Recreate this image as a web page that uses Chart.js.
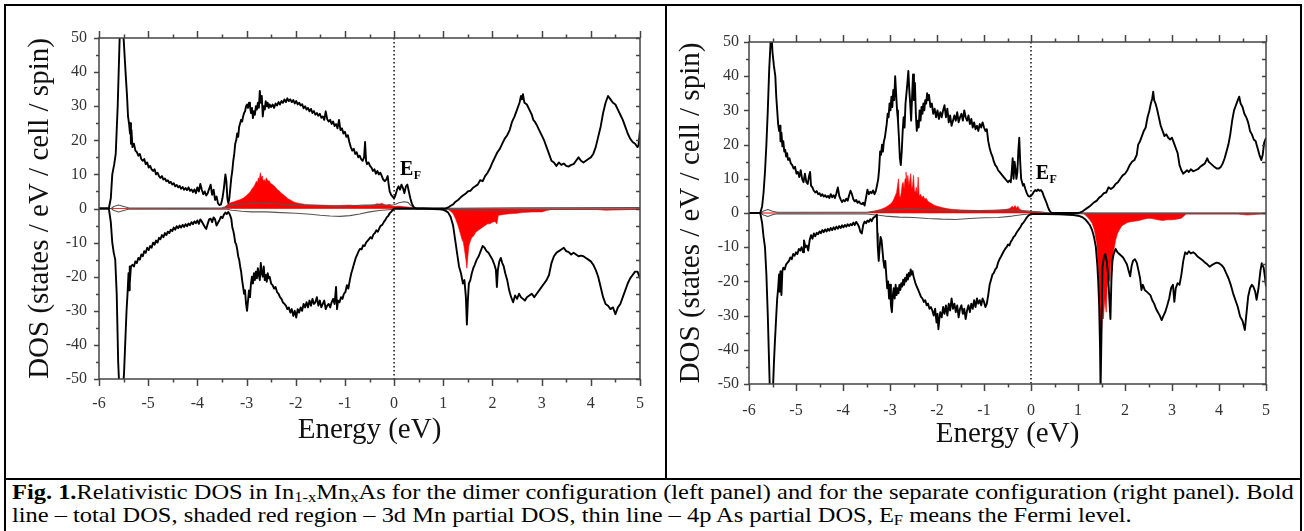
<!DOCTYPE html>
<html>
<head>
<meta charset="utf-8">
<script src="https://cdn.jsdelivr.net/npm/chart.js@4/dist/chart.umd.min.js"></script>
<style>
  html, body { margin: 0; padding: 0; background: #fff; }
  body { width: 1304px; height: 531px; position: relative; overflow: hidden; font-family: "Liberation Serif", "Times New Roman", serif; }
  .rule { position: absolute; background: #000; }
  canvas { position: absolute; }
  #cap { position: absolute; left: 12px; top: 481px; font-size: 21px; line-height: 23px; color: #000; white-space: nowrap;
         transform: scaleX(1.163); transform-origin: 0 0; }
  #cap sub { font-size: 0.68em; vertical-align: -0.22em; line-height: 0; }
</style>
</head>
<body>
<div class="rule" style="left:4px;top:4px;width:1298px;height:2px"></div>
<div class="rule" style="left:4px;top:4px;width:2px;height:527px"></div>
<div class="rule" style="left:1300px;top:4px;width:2px;height:527px"></div>
<div class="rule" style="left:665px;top:4px;width:2px;height:476px"></div>
<div class="rule" style="left:4px;top:478px;width:1298px;height:2px"></div>

<canvas id="dimer" width="659" height="468" style="left:6px;top:6px;width:659px;height:468px"></canvas>
<canvas id="separate" width="633" height="468" style="left:667px;top:6px;width:633px;height:468px"></canvas>

<div id="cap"><b>Fig. 1.</b>Relativistic DOS in In<sub>1-x</sub>Mn<sub>x</sub>As for the dimer configuration (left panel) and for the separate configuration (right panel). Bold<br>line – total DOS, shaded red region – 3d Mn partial DOS, thin line – 4p As partial DOS, E<sub>F</sub> means the Fermi level.</div>

<script>
// axis ticks (major + half steps)
const energyTicks = [-6, -5.5, -5, -4.5, -4, -3.5, -3, -2.5, -2, -1.5, -1, -0.5, 0, 0.5, 1, 1.5, 2, 2.5, 3, 3.5, 4, 4.5, 5];
const dosTicks = [-50, -45, -40, -35, -30, -25, -20, -15, -10, -5, 0, 5, 10, 15, 20, 25, 30, 35, 40, 45, 50];

// ---- left panel: dimer configuration, [energy eV, DOS] ----
const dimerTotalUp = [
  [-6,0],[-5.8,0],[-5.76,3],[-5.73,10],[-5.69,13],[-5.66,16],[-5.62,30],[-5.58,50],[-5.55,55],[-5.5,50],[-5.46,40],[-5.43,33],
  [-5.41,27],[-5.39,25],[-5.37,22],[-5.36,25],[-5.35,19],[-5.34,23],[-5.32,18],[-5.29,19],[-5.26,17],[-5.23,16.5],[-5.2,15.5],
  [-5.17,16],[-5.14,14.5],[-5.11,14],[-5.08,14.5],[-5.05,13],[-5.02,13.5],[-4.99,12],[-4.96,12.5],[-4.93,11.5],[-4.9,11],
  [-4.87,11.5],[-4.84,10],[-4.81,10.5],[-4.78,9.5],[-4.75,9],[-4.72,9.5],[-4.69,8.5],[-4.66,8.8],[-4.63,8],[-4.6,8.3],
  [-4.57,7.5],[-4.54,7.8],[-4.51,7],[-4.48,7.4],[-4.45,6.5],[-4.42,6.9],[-4.39,6.2],[-4.36,6.6],[-4.33,5.8],[-4.3,6.3],
  [-4.27,5.5],[-4.24,6],[-4.21,5.4],[-4.18,6.2],[-4.15,5.2],[-4.12,5.6],[-4.09,4.8],[-4.06,5.6],[-4.03,4.5],[-4,6.2],
  [-3.97,5],[-3.94,7.2],[-3.91,5.5],[-3.88,4.2],[-3.85,5],[-3.82,3.8],[-3.79,4.5],[-3.76,5.8],[-3.73,7],[-3.7,4],
  [-3.67,5.5],[-3.64,2.5],[-3.61,3.5],[-3.58,1.5],[-3.55,1],[-3.52,1.2],[-3.49,3],[-3.46,6],[-3.43,10],[-3.41,8],
  [-3.39,3],[-3.37,1.5],[-3.35,3],[-3.33,6],[-3.31,9],[-3.29,11],[-3.27,14],[-3.25,16],[-3.23,19],[-3.21,20],[-3.19,22],
  [-3.17,21],[-3.15,24],[-3.13,25],[-3.11,26],[-3.09,25.5],[-3.07,27],[-3.05,28],[-3.03,28.5],[-3.01,30],[-2.99,30.5],
  [-2.97,29.5],[-2.95,31],[-2.93,30],[-2.91,28],[-2.89,29.5],[-2.87,26.5],[-2.85,28.5],[-2.83,27.5],[-2.81,30],[-2.79,29],
  [-2.77,31],[-2.75,29.5],[-2.73,34.5],[-2.71,31],[-2.69,33],[-2.67,27],[-2.65,30],[-2.63,29],[-2.61,31.5],[-2.59,30],
  [-2.57,31],[-2.55,29.5],[-2.53,30.5],[-2.5,29.8],[-2.47,30.5],[-2.44,29.5],[-2.41,30.8],[-2.38,30.2],[-2.35,31.2],
  [-2.32,30.5],[-2.29,31.5],[-2.26,31],[-2.23,32],[-2.2,31.2],[-2.17,32.3],[-2.14,31.5],[-2.11,32],[-2.08,31.2],[-2.05,31.8],
  [-2.02,30.8],[-1.99,31.5],[-1.96,30.5],[-1.93,31],[-1.9,30.2],[-1.87,30.6],[-1.84,29.4],[-1.81,30],[-1.78,29],[-1.75,29.5],
  [-1.72,28.5],[-1.69,29.2],[-1.66,28],[-1.63,28.6],[-1.6,27.5],[-1.57,28],[-1.54,27.2],[-1.51,27.8],[-1.48,26.6],[-1.45,27],
  [-1.42,26],[-1.39,28.5],[-1.36,26.2],[-1.33,25.5],[-1.3,26],[-1.27,24.8],[-1.24,25.5],[-1.21,24.2],[-1.18,24.8],[-1.15,23.5],
  [-1.12,26],[-1.09,23],[-1.06,23.5],[-1.03,22],[-1,22.5],[-0.97,21],[-0.94,21.5],[-0.91,19.5],[-0.88,18],[-0.85,17],
  [-0.82,17.5],[-0.79,16],[-0.76,16.5],[-0.73,15],[-0.7,15.5],[-0.67,14.5],[-0.64,14],[-0.61,15],[-0.59,19.5],[-0.57,14],
  [-0.55,13],[-0.52,13.5],[-0.49,12.5],[-0.46,12],[-0.43,11],[-0.4,11.5],[-0.37,10.2],[-0.34,11],[-0.31,10],[-0.28,10.5],
  [-0.25,9.5],[-0.22,8.5],[-0.19,8],[-0.16,8.5],[-0.13,9.5],[-0.11,7],[-0.09,5],[-0.06,4],[-0.03,3.5],[0,3],[0.03,4],
  [0.06,5.5],[0.09,6.5],[0.12,5.5],[0.15,7],[0.18,6],[0.21,4.5],[0.24,6.5],[0.27,7],[0.3,5],[0.33,3],[0.36,1.5],[0.4,0.3],
  [0.45,0],[1.05,0],[1.1,0.3],[1.15,0.8],[1.2,1.2],[1.25,2],[1.3,2.5],[1.35,3.2],[1.4,3.8],[1.45,4.3],[1.5,5],[1.55,5.2],
  [1.6,6],[1.65,6.5],[1.7,7],[1.75,8.3],[1.8,8],[1.85,9.5],[1.9,10.5],[1.95,11.8],[2,13.5],[2.05,15],[2.1,16.5],[2.15,17.5],
  [2.2,19],[2.25,20.5],[2.3,21.5],[2.35,23],[2.4,25.5],[2.45,27],[2.5,29],[2.55,31],[2.58,33],[2.6,32],[2.62,33.5],[2.65,31],
  [2.7,30.5],[2.75,29],[2.8,27.5],[2.83,26],[2.86,25.5],[2.9,24.5],[2.95,23],[3,21.5],[3.05,20],[3.1,18],[3.15,16],[3.2,14],
  [3.25,13.5],[3.3,12.5],[3.35,13.5],[3.4,12.8],[3.45,13.2],[3.5,12.5],[3.55,12.3],[3.6,12.8],[3.65,13],[3.7,14],[3.75,15],
  [3.8,14],[3.85,13.5],[3.9,14],[3.95,14.5],[4,15],[4.05,16],[4.1,18],[4.15,21],[4.2,24],[4.25,28],[4.3,31],[4.35,33],
  [4.4,32],[4.45,31],[4.5,30.5],[4.55,29],[4.6,27.5],[4.65,26],[4.7,24],[4.75,22],[4.8,20.5],[4.85,19.5],[4.9,19],[4.95,18],
  [4.97,18.5],[5,23]
];
const dimerTotalDown = [
  [-6,0],[-5.8,0],[-5.76,-4],[-5.73,-10],[-5.7,-13],[-5.67,-15],[-5.64,-25],[-5.61,-45],[-5.58,-55],[-5.52,-55],[-5.49,-48],
  [-5.46,-37],[-5.44,-30],[-5.42,-25],[-5.4,-19],[-5.39,-24],[-5.38,-17],[-5.37,-22],[-5.35,-17],[-5.32,-16.5],[-5.29,-17],
  [-5.26,-15.5],[-5.23,-16],[-5.2,-14.5],[-5.17,-15],[-5.14,-13.5],[-5.11,-14],[-5.08,-12.5],[-5.05,-13],[-5.02,-11.5],
  [-4.99,-12.2],[-4.96,-11],[-4.93,-11.5],[-4.9,-10],[-4.87,-10.6],[-4.84,-9.4],[-4.81,-10],[-4.78,-8.6],[-4.75,-9],
  [-4.72,-7.8],[-4.69,-8.4],[-4.66,-7.2],[-4.63,-7.8],[-4.6,-6.8],[-4.57,-7.2],[-4.54,-6.2],[-4.51,-6.6],[-4.48,-5.6],
  [-4.45,-6.2],[-4.42,-5.2],[-4.39,-5.8],[-4.36,-5],[-4.33,-5.6],[-4.3,-4.8],[-4.27,-5.4],[-4.24,-4.6],[-4.21,-5.2],
  [-4.18,-4.4],[-4.15,-4.9],[-4.12,-4],[-4.09,-4.6],[-4.06,-3.8],[-4.03,-4.3],[-4,-3.5],[-3.97,-4.5],[-3.94,-3.2],
  [-3.91,-3.8],[-3.88,-4.6],[-3.85,-5.4],[-3.82,-6],[-3.79,-4.5],[-3.76,-3.2],[-3.73,-3],[-3.7,-4],[-3.67,-2.6],[-3.64,-3.2],
  [-3.61,-5],[-3.58,-4.2],[-3.55,-3.4],[-3.52,-2.4],[-3.49,-2.8],[-3.46,-1.8],[-3.43,-1.2],[-3.4,-1.6],[-3.37,-1],[-3.34,-1.8],
  [-3.31,-3],[-3.29,-5.5],[-3.27,-6.5],[-3.25,-8],[-3.23,-10],[-3.21,-10.5],[-3.19,-12],[-3.17,-14],[-3.15,-15],[-3.13,-17],
  [-3.11,-18.5],[-3.09,-21],[-3.07,-23],[-3.05,-25],[-3.03,-24],[-3.01,-28],[-2.99,-30],[-2.97,-27],[-2.95,-24],[-2.93,-26],
  [-2.91,-22],[-2.89,-20],[-2.87,-22],[-2.85,-19],[-2.83,-21],[-2.81,-18.5],[-2.79,-20.5],[-2.77,-17.5],[-2.75,-19.5],
  [-2.73,-21],[-2.71,-16],[-2.69,-19],[-2.67,-20],[-2.65,-17],[-2.63,-21],[-2.61,-19.5],[-2.59,-21.5],[-2.57,-19],[-2.55,-20.5],
  [-2.53,-20],[-2.5,-22],[-2.47,-22.5],[-2.44,-23.5],[-2.41,-23],[-2.38,-24.5],[-2.35,-25],[-2.32,-26],[-2.29,-26.5],
  [-2.26,-27.5],[-2.23,-28],[-2.2,-28.5],[-2.17,-29.5],[-2.14,-29],[-2.11,-30.5],[-2.08,-29.5],[-2.05,-31.5],[-2.02,-30],
  [-1.99,-32],[-1.96,-29.5],[-1.93,-30.5],[-1.9,-29],[-1.87,-30],[-1.84,-28],[-1.81,-29],[-1.78,-27.5],[-1.75,-29],[-1.72,-27],
  [-1.69,-28.5],[-1.66,-26.5],[-1.63,-28],[-1.6,-27.5],[-1.57,-26],[-1.54,-28.5],[-1.51,-27],[-1.48,-29],[-1.45,-28],[-1.42,-27],
  [-1.39,-29.5],[-1.36,-28.5],[-1.33,-28],[-1.3,-29],[-1.27,-27.5],[-1.24,-26.5],[-1.21,-28],[-1.18,-23],[-1.16,-29.5],
  [-1.14,-27],[-1.11,-27.5],[-1.08,-26],[-1.05,-26.5],[-1.02,-25],[-0.99,-24.5],[-0.96,-22.5],[-0.93,-23.5],[-0.9,-21],
  [-0.87,-19],[-0.84,-17.5],[-0.81,-16],[-0.78,-14.5],[-0.75,-13.5],[-0.72,-12.5],[-0.69,-11.8],[-0.66,-12],[-0.63,-10.8],
  [-0.6,-11],[-0.57,-10],[-0.54,-9.5],[-0.51,-9],[-0.48,-8.4],[-0.45,-8.8],[-0.42,-7.6],[-0.39,-7.2],[-0.36,-6.4],[-0.33,-6.8],
  [-0.3,-5.8],[-0.27,-5],[-0.24,-4.8],[-0.21,-4],[-0.18,-3.4],[-0.15,-2.6],[-0.12,-2.2],[-0.09,-1.4],[-0.06,-1],[-0.03,-0.5],
  [0,0],[0.3,0],[0.6,0],[0.9,-0.2],[1,-0.4],[1.05,-0.7],[1.1,-1.2],[1.15,-2.5],[1.2,-5],[1.25,-10],[1.28,-13],[1.32,-17],
  [1.36,-19],[1.4,-22],[1.43,-21],[1.46,-26],[1.48,-34],[1.5,-27],[1.52,-22],[1.55,-21],[1.58,-19],[1.61,-17.5],[1.64,-16.5],
  [1.68,-15],[1.72,-14],[1.76,-12.5],[1.8,-11],[1.84,-11.5],[1.88,-12.5],[1.92,-13],[1.96,-14],[2,-15],[2.04,-16.5],[2.07,-18],
  [2.09,-23],[2.11,-18],[2.14,-15.5],[2.17,-14.5],[2.2,-16],[2.23,-17],[2.26,-19],[2.3,-21],[2.34,-24],[2.38,-26],[2.42,-27.5],
  [2.46,-25.5],[2.5,-26.5],[2.54,-25],[2.58,-26],[2.62,-26.5],[2.66,-27],[2.7,-26],[2.75,-25.5],[2.8,-25],[2.85,-26],[2.9,-25],
  [2.95,-24],[3,-23],[3.05,-22],[3.1,-21],[3.15,-19.5],[3.2,-16],[3.25,-14],[3.3,-13],[3.35,-12.5],[3.4,-12],[3.45,-11.5],
  [3.5,-12.5],[3.55,-12.8],[3.6,-13.5],[3.65,-13],[3.7,-13.5],[3.75,-14],[3.8,-13.8],[3.85,-14],[3.9,-14.5],[3.95,-15],
  [4,-15.5],[4.05,-16.5],[4.1,-18],[4.15,-20],[4.2,-23],[4.25,-26],[4.3,-28],[4.35,-28.5],[4.4,-29.5],[4.45,-29],[4.5,-31],
  [4.55,-29],[4.6,-28],[4.65,-26],[4.7,-24],[4.75,-22],[4.8,-20.5],[4.85,-19.5],[4.9,-18.5],[4.95,-18.5],[5,-20.5]
];
const dimerMnUp = [
  [-6,0],[-3.5,0],[-3.45,0.3],[-3.4,1],[-3.35,1.5],[-3.3,1.8],[-3.25,2],[-3.2,2.3],[-3.15,2.5],[-3.1,2.8],[-3.05,3.2],[-3,3.8],
  [-2.95,4.5],[-2.92,5],[-2.89,5.8],[-2.86,6.2],[-2.83,7],[-2.8,8],[-2.78,7.5],[-2.76,9],[-2.74,8.5],[-2.72,10.5],[-2.7,9],
  [-2.68,9.5],[-2.66,8],[-2.64,8.5],[-2.62,7.8],[-2.6,9],[-2.58,8.5],[-2.56,8],[-2.54,8.2],[-2.52,7.5],[-2.49,7.2],[-2.46,6.8],
  [-2.43,6.5],[-2.4,6],[-2.37,5.5],[-2.34,5.2],[-2.31,4.8],[-2.28,4.3],[-2.25,4],[-2.2,3.4],[-2.15,2.8],[-2.1,2.4],[-2.05,2],
  [-2,1.7],[-1.9,1.4],[-1.8,1.2],[-1.7,1.1],[-1.5,1],[-1.3,0.9],[-1.1,0.9],[-0.9,1],[-0.7,0.8],[-0.5,0.9],[-0.4,1.1],
  [-0.35,1.4],[-0.3,1.3],[-0.25,1.5],[-0.2,1.2],[-0.15,1],[-0.1,1.2],[-0.05,0.8],[0,0.6],[0.1,0.7],[0.2,0.5],[0.3,0.4],
  [0.4,0.1],[0.5,0],[5,0]
];
const dimerMnDown = [
  [-6,0],[1,0],[1.1,-0.3],[1.15,-0.8],[1.2,-1.5],[1.25,-3],[1.3,-5],[1.34,-7],[1.38,-9],[1.41,-10],[1.44,-13],[1.46,-15],
  [1.48,-17.5],[1.5,-14],[1.52,-11],[1.55,-9.5],[1.58,-8.5],[1.62,-8],[1.66,-7],[1.7,-6.5],[1.75,-6],[1.8,-5.5],[1.85,-5],
  [1.9,-4.5],[1.95,-4.5],[2,-4],[2.05,-3.8],[2.09,-4.5],[2.12,-2],[2.2,-1.8],[2.3,-1.6],[2.4,-1.5],[2.5,-1.4],[2.6,-1.2],
  [2.8,-1],[3,-1],[3.1,-0.6],[3.2,-0.3],[4,-0.2],[4.3,-0.5],[4.6,-0.4],[5,-0.2]
];
const dimerAsUp = [
  [-6,0],[-5.75,0],[-5.7,0.6],[-5.6,1],[-5.5,0.6],[-5.4,0.2],[-4,0.1],[-3.5,0.2],[-3.4,0.6],[-3.3,1],[-3.2,1.2],[-3,1.4],
  [-2.8,1.5],[-2.6,1.5],[-2.4,1.4],[-2.2,1.2],[-2,1],[-1.8,0.9],[-1.5,0.8],[-1.2,0.7],[-1,0.7],[-0.8,0.9],[-0.6,1],[-0.4,1],
  [-0.2,0.9],[0,1.1],[0.1,1.7],[0.2,2],[0.28,1.8],[0.35,0.8],[0.45,0],[2.5,0.2],[5,0.3]
];
const dimerAsDown = [
  [-6,0],[-5.75,0],[-5.7,-0.6],[-5.6,-1],[-5.5,-0.6],[-5.4,-0.2],[-3.4,-0.2],[-3.3,-0.5],[-3.1,-0.8],[-2.9,-1],[-2.6,-1],
  [-2.3,-1.2],[-2,-1.4],[-1.7,-1.7],[-1.5,-2],[-1.3,-2.2],[-1.1,-2.3],[-0.9,-2.1],[-0.7,-1.6],[-0.5,-1],[-0.3,-0.6],[0,-0.2],
  [1.1,-0.2],[1.5,-0.4],[2,-0.5],[3,-0.3],[5,-0.3]
];

// ---- right panel: separate configuration ----
const sepTotalUp = [
  [-6,0],[-5.76,0],[-5.72,2],[-5.69,6],[-5.66,12],[-5.63,20],[-5.6,30],[-5.57,42],[-5.54,50],[-5.52,52],[-5.5,47],[-5.47,43],
  [-5.44,40],[-5.42,34],[-5.4,30],[-5.38,26],[-5.36,24],[-5.34,25.5],[-5.33,21],[-5.31,23.5],[-5.29,19.5],[-5.27,21],
  [-5.25,18],[-5.23,18.5],[-5.21,16.5],[-5.19,17.5],[-5.17,15.5],[-5.14,16],[-5.11,14.5],[-5.08,14],[-5.05,13],[-5.02,13.5],
  [-4.99,11.5],[-4.96,12],[-4.93,10.5],[-4.9,12.5],[-4.87,10],[-4.84,9],[-4.81,11.5],[-4.78,9],[-4.75,8.5],[-4.72,11],
  [-4.7,12],[-4.68,8],[-4.65,7.5],[-4.62,6.5],[-4.59,6],[-4.56,6.4],[-4.53,5.5],[-4.5,5.8],[-4.47,5],[-4.44,5.5],[-4.41,4.8],
  [-4.38,5.2],[-4.35,4.6],[-4.32,5],[-4.29,4.4],[-4.26,5.5],[-4.23,4.6],[-4.2,5.2],[-4.17,4.4],[-4.14,5.8],[-4.11,7.5],
  [-4.08,5],[-4.05,4],[-4.02,3.2],[-3.99,3.8],[-3.96,3.4],[-3.93,4.2],[-3.9,3.6],[-3.87,5.2],[-3.84,6.5],[-3.81,5.5],[-3.78,4],
  [-3.75,3.4],[-3.72,3.8],[-3.69,3],[-3.66,3.4],[-3.63,2.8],[-3.6,2.6],[-3.57,3],[-3.54,2.2],[-3.51,4.5],[-3.48,6.8],
  [-3.45,5.5],[-3.42,6.2],[-3.39,5.8],[-3.36,6.6],[-3.33,5.5],[-3.3,6.5],[-3.27,8.5],[-3.25,10],[-3.23,13],[-3.21,18],
  [-3.19,17],[-3.17,20],[-3.15,18],[-3.13,21],[-3.11,22],[-3.09,24],[-3.07,26],[-3.05,29],[-3.03,28],[-3.01,32],[-2.99,30],
  [-2.97,34],[-2.95,31],[-2.93,36],[-2.91,33],[-2.89,40],[-2.87,35],[-2.85,30],[-2.83,27],[-2.81,22],[-2.79,16],[-2.77,14],
  [-2.75,18],[-2.73,24],[-2.71,28],[-2.69,25],[-2.67,32],[-2.65,35],[-2.63,38],[-2.61,41.5],[-2.59,36],[-2.57,32],[-2.55,27],
  [-2.53,34],[-2.51,40.5],[-2.49,33],[-2.47,38],[-2.45,29],[-2.43,24],[-2.41,27],[-2.39,25],[-2.37,30],[-2.35,27],[-2.33,31],
  [-2.31,29],[-2.29,32],[-2.27,30],[-2.25,33],[-2.23,32],[-2.21,35],[-2.19,33],[-2.17,34.5],[-2.14,31],[-2.11,32],[-2.08,29],
  [-2.05,30.5],[-2.02,28],[-1.99,30],[-1.96,27.5],[-1.93,29.5],[-1.9,28],[-1.87,30],[-1.84,31.5],[-1.81,28],[-1.78,30.5],
  [-1.75,26.5],[-1.72,28.5],[-1.69,25.5],[-1.66,27],[-1.63,28.5],[-1.6,27],[-1.57,29.5],[-1.54,26.5],[-1.51,28],[-1.48,29],
  [-1.45,27],[-1.42,30],[-1.39,28],[-1.36,27],[-1.33,28.5],[-1.3,26],[-1.27,27.5],[-1.24,25],[-1.21,26.5],[-1.18,24.5],
  [-1.15,25.5],[-1.12,24],[-1.09,26],[-1.06,25],[-1.03,26.5],[-1,25],[-0.97,24],[-0.94,24.5],[-0.91,21],[-0.88,19],
  [-0.85,17.5],[-0.82,16.5],[-0.79,15],[-0.76,14],[-0.73,13.5],[-0.7,12.5],[-0.67,12],[-0.64,11.5],[-0.61,11],[-0.58,10.5],
  [-0.55,10],[-0.52,9.5],[-0.49,9],[-0.46,9.5],[-0.43,9],[-0.41,12],[-0.39,16],[-0.37,10],[-0.35,15],[-0.33,13],[-0.31,10],
  [-0.29,12],[-0.27,18],[-0.25,22],[-0.23,15],[-0.21,10],[-0.19,9],[-0.17,8],[-0.15,8.5],[-0.12,7],[-0.09,5.8],[-0.06,5],
  [-0.03,4.8],[0,5],[0.03,5.5],[0.06,6.2],[0.09,6.7],[0.12,6.4],[0.15,6.9],[0.18,6.5],[0.21,6.7],[0.24,6.2],[0.27,5],[0.3,4],
  [0.33,3],[0.36,1.8],[0.39,0.8],[0.42,0.2],[0.45,0],[1,0],[1.05,0.2],[1.1,0.5],[1.15,1],[1.2,1.5],[1.25,2],[1.3,2.6],
  [1.35,3.2],[1.4,3.6],[1.45,4.5],[1.5,5],[1.55,5.8],[1.6,6],[1.65,7.5],[1.7,7],[1.75,7.5],[1.8,8.5],[1.85,9],[1.9,10],
  [1.95,11],[2,11.5],[2.05,12.5],[2.1,14],[2.15,15],[2.2,15.5],[2.25,17],[2.28,20],[2.32,21],[2.36,22.5],[2.4,24],[2.44,25],
  [2.48,28],[2.52,30],[2.55,32],[2.58,33.5],[2.6,35.5],[2.62,33],[2.65,32],[2.68,30.5],[2.72,28],[2.76,25.5],[2.8,24],
  [2.84,22.5],[2.88,23],[2.92,22],[2.96,21.5],[3,22],[3.04,20.5],[3.08,19],[3.12,17.5],[3.16,14],[3.2,12.5],[3.24,11.5],
  [3.28,12],[3.32,12.5],[3.36,12],[3.4,12.8],[3.45,12.2],[3.5,12.5],[3.55,12.8],[3.6,13.5],[3.65,14],[3.7,14.5],[3.75,16],
  [3.78,15],[3.82,14.5],[3.86,14],[3.9,13.5],[3.95,13],[4,13],[4.04,13.5],[4.08,14.5],[4.12,16],[4.16,18],[4.2,20],[4.24,23],
  [4.28,27],[4.32,30],[4.36,31.5],[4.4,33],[4.43,34],[4.46,32],[4.5,31],[4.54,29],[4.58,28],[4.62,26.5],[4.66,24],[4.7,23],
  [4.74,21.5],[4.78,21],[4.82,19],[4.86,17],[4.9,15.5],[4.93,17],[4.96,20.5],[5,22]
];
const sepTotalDown = [
  [-6,0],[-5.76,0],[-5.72,-3],[-5.69,-7],[-5.66,-10],[-5.63,-18],[-5.6,-30],[-5.57,-45],[-5.55,-55],[-5.5,-55],[-5.47,-44],
  [-5.45,-38],[-5.42,-30],[-5.4,-25],[-5.38,-22],[-5.36,-18],[-5.35,-23],[-5.33,-17],[-5.31,-24],[-5.29,-17],[-5.27,-16],
  [-5.24,-16.5],[-5.21,-15],[-5.18,-14.5],[-5.15,-14],[-5.12,-13],[-5.09,-13.5],[-5.06,-12],[-5.03,-12.5],[-5,-11.5],
  [-4.97,-12],[-4.94,-10.5],[-4.91,-11],[-4.88,-10],[-4.85,-11.5],[-4.83,-8],[-4.8,-10],[-4.77,-9.5],[-4.74,-11],[-4.71,-8],
  [-4.68,-6.5],[-4.65,-7.5],[-4.62,-6],[-4.59,-6.8],[-4.56,-5.8],[-4.53,-6.2],[-4.5,-5.4],[-4.47,-5.9],[-4.44,-5],[-4.41,-5.6],
  [-4.38,-4.8],[-4.35,-5.4],[-4.32,-4.6],[-4.29,-5.2],[-4.26,-4.4],[-4.23,-5],[-4.2,-4.2],[-4.17,-4.8],[-4.14,-4],[-4.11,-4.6],
  [-4.08,-3.8],[-4.05,-4.4],[-4.02,-3.6],[-3.99,-4.2],[-3.96,-3.5],[-3.93,-4],[-3.9,-3.3],[-3.87,-3.8],[-3.84,-3.2],[-3.81,-3.6],
  [-3.78,-2.8],[-3.75,-3.5],[-3.72,-2.6],[-3.69,-3.2],[-3.66,-4],[-3.63,-5.5],[-3.6,-6],[-3.57,-3.5],[-3.54,-2.5],[-3.51,-3],
  [-3.48,-2.2],[-3.45,-2.6],[-3.42,-1.8],[-3.39,-2.4],[-3.36,-1.5],[-3.33,-1.2],[-3.3,-0.8],[-3.28,-0.5],[-3.27,-6],[-3.26,-10],
  [-3.24,-14],[-3.22,-10],[-3.2,-7],[-3.18,-8],[-3.16,-11],[-3.14,-14],[-3.12,-16],[-3.1,-14],[-3.08,-18],[-3.06,-22],
  [-3.04,-20],[-3.02,-25],[-3,-21],[-2.98,-27],[-2.96,-29],[-2.94,-24],[-2.92,-22],[-2.9,-25],[-2.88,-21],[-2.86,-24],
  [-2.84,-22],[-2.82,-23.5],[-2.8,-21],[-2.78,-22.5],[-2.76,-20.5],[-2.74,-21.5],[-2.72,-19.5],[-2.7,-21],[-2.68,-19],[-2.66,-20],
  [-2.64,-18],[-2.62,-19.5],[-2.6,-17.5],[-2.58,-18.5],[-2.56,-16.5],[-2.54,-18],[-2.52,-17],[-2.5,-18.5],[-2.48,-19.5],
  [-2.46,-20.5],[-2.43,-21.5],[-2.4,-22.5],[-2.37,-23.5],[-2.34,-24.5],[-2.31,-25],[-2.28,-26],[-2.25,-25.5],[-2.22,-27],
  [-2.19,-26.5],[-2.16,-28],[-2.13,-27.5],[-2.1,-28.5],[-2.07,-30],[-2.04,-28],[-2.01,-32],[-1.99,-29.5],[-1.97,-34],[-1.95,-31],
  [-1.93,-29],[-1.9,-30.5],[-1.87,-27.5],[-1.84,-29.5],[-1.81,-27],[-1.78,-30],[-1.75,-26.5],[-1.72,-28.5],[-1.69,-25],[-1.66,-28],
  [-1.63,-26.5],[-1.6,-29],[-1.57,-27],[-1.54,-30.5],[-1.51,-28],[-1.48,-27],[-1.45,-29.5],[-1.42,-28],[-1.39,-31],[-1.36,-28.5],
  [-1.33,-27],[-1.3,-29],[-1.27,-26.5],[-1.24,-28],[-1.21,-25.5],[-1.18,-27.5],[-1.15,-25],[-1.12,-26.5],[-1.09,-25.5],[-1.06,-27],
  [-1.03,-25],[-1,-26],[-0.97,-27.5],[-0.94,-26.5],[-0.91,-24],[-0.88,-21],[-0.85,-19.5],[-0.82,-18],[-0.79,-17.5],[-0.76,-16.5],
  [-0.73,-16],[-0.7,-14.5],[-0.67,-13.5],[-0.64,-12.8],[-0.61,-12],[-0.58,-11.2],[-0.55,-10.5],[-0.52,-10],[-0.49,-9.2],
  [-0.46,-9.5],[-0.43,-8.4],[-0.4,-7.8],[-0.37,-7],[-0.34,-6.6],[-0.31,-5.8],[-0.28,-5.2],[-0.25,-4.6],[-0.22,-4],[-0.19,-3.2],
  [-0.16,-2.8],[-0.13,-2.2],[-0.1,-1.5],[-0.07,-1],[-0.04,-0.6],[0,-0.3],[0.3,-0.3],[0.6,-0.4],[0.9,-0.6],[1,-0.8],[1.05,-1],
  [1.1,-1.3],[1.15,-1.8],[1.2,-2.6],[1.25,-3.5],[1.3,-5],[1.34,-7],[1.38,-10],[1.41,-15],[1.43,-20],[1.45,-27],[1.47,-40],
  [1.48,-52],[1.5,-35],[1.52,-16],[1.55,-13],[1.58,-12],[1.61,-14],[1.64,-18],[1.67,-26],[1.69,-31],[1.71,-20],[1.73,-14],
  [1.76,-12],[1.8,-10.5],[1.84,-11.5],[1.88,-12],[1.92,-12.5],[1.96,-13],[2,-14],[2.04,-15],[2.08,-17],[2.11,-18.5],[2.14,-15.5],
  [2.17,-14],[2.21,-13.5],[2.25,-14.5],[2.29,-17],[2.32,-19],[2.35,-22.5],[2.38,-21],[2.42,-22.5],[2.46,-23],[2.5,-23.5],
  [2.54,-24],[2.58,-25.5],[2.62,-26.5],[2.66,-28],[2.7,-29],[2.74,-30],[2.78,-31.3],[2.82,-30],[2.86,-28.8],[2.9,-27],[2.94,-25],
  [2.98,-22],[3.02,-21],[3.05,-26],[3.08,-22],[3.12,-20.5],[3.16,-21],[3.2,-18],[3.24,-14],[3.28,-11.5],[3.32,-12],[3.36,-11.2],
  [3.4,-11.8],[3.45,-11.5],[3.5,-12],[3.55,-12.8],[3.6,-13.3],[3.65,-13.8],[3.7,-14.5],[3.75,-15],[3.8,-15.7],[3.85,-15.2],
  [3.9,-14.8],[3.95,-14.5],[4,-14.7],[4.05,-15.2],[4.1,-16],[4.15,-17.5],[4.2,-19],[4.25,-21],[4.3,-23.5],[4.35,-25.5],
  [4.4,-27.5],[4.45,-30.3],[4.5,-31.5],[4.55,-34.2],[4.58,-30],[4.62,-24.5],[4.66,-22],[4.7,-21],[4.73,-21.5],[4.77,-23],
  [4.8,-25.4],[4.84,-22],[4.88,-17],[4.91,-14.7],[4.95,-16],[4.98,-19],[5,-21.5]
];
const sepMnUp = [
  [-6,0],[-3.5,0],[-3.45,0.2],[-3.4,0.4],[-3.3,0.7],[-3.2,1],[-3.1,1.6],[-3,2.5],[-2.95,3.2],[-2.92,4],[-2.89,5],[-2.86,6],
  [-2.84,8],[-2.82,10],[-2.8,5],[-2.78,4.5],[-2.76,6],[-2.74,8.5],[-2.72,9],[-2.7,7],[-2.68,10],[-2.66,12],[-2.64,9],[-2.62,11],
  [-2.6,8],[-2.58,9.5],[-2.56,11.5],[-2.54,7],[-2.52,8],[-2.5,11],[-2.48,6.5],[-2.46,6],[-2.44,7.5],[-2.42,5.5],[-2.4,10.5],
  [-2.38,5],[-2.35,5.5],[-2.32,4.5],[-2.29,5],[-2.26,4],[-2.23,4.3],[-2.2,3.5],[-2.15,3],[-2.1,2.6],[-2.05,2.2],[-2,2],
  [-1.9,1.6],[-1.8,1.3],[-1.7,1.1],[-1.5,0.9],[-1.3,0.8],[-1.1,0.7],[-0.9,0.7],[-0.7,0.8],[-0.55,1],[-0.45,1.3],[-0.4,2],
  [-0.37,1.5],[-0.34,2.2],[-0.31,1.4],[-0.28,2],[-0.25,1.2],[-0.2,0.8],[-0.1,0.6],[0,0.4],[0.2,0.3],[0.35,0.1],[0.45,0],[5,0]
];
const sepMnDown = [
  [-6,0],[1.1,0],[1.15,-0.5],[1.2,-1.2],[1.25,-2],[1.3,-3],[1.35,-5],[1.4,-9],[1.43,-15],[1.45,-25],[1.47,-40],[1.48,-47],
  [1.5,-35],[1.52,-28],[1.54,-31],[1.57,-25],[1.6,-29],[1.62,-22],[1.65,-18],[1.68,-20],[1.7,-14],[1.73,-17],[1.76,-11],
  [1.8,-8],[1.84,-6],[1.88,-5],[1.92,-4],[1.96,-3.5],[2,-3.2],[2.05,-2.8],[2.1,-2.6],[2.2,-2.4],[2.3,-2.2],[2.4,-1.8],
  [2.5,-1.5],[2.6,-1.7],[2.7,-2],[2.8,-2.2],[2.9,-2],[3,-2],[3.1,-1.8],[3.2,-1.5],[3.3,-0.3],[4.4,-0.3],[4.6,-0.6],[4.8,-0.4],
  [5,-0.2]
];
const sepAsUp = [
  [-6,0],[-5.75,0],[-5.7,0.5],[-5.6,1],[-5.5,0.5],[-5.4,0.2],[-3.5,0.2],[-3.3,0.5],[-3.1,0.8],[-2.9,1],[-2.7,1.2],[-2.5,1.2],
  [-2.3,1],[-2,0.9],[-1.7,0.8],[-1.4,0.7],[-1.1,0.7],[-0.8,0.8],[-0.5,0.9],[-0.3,0.7],[0,0.5],[0.2,0.3],[0.4,0],[5,0]
];
const sepAsDown = [
  [-6,0],[-5.75,0],[-5.7,-0.5],[-5.6,-1],[-5.5,-0.5],[-5.4,-0.2],[-3.5,-0.3],[-3.3,-0.6],[-3.1,-0.9],[-2.8,-1.2],[-2.5,-1.3],
  [-2.2,-1.6],[-1.9,-1.8],[-1.6,-1.9],[-1.3,-1.6],[-1,-1.4],[-0.7,-1.3],[-0.4,-0.9],[-0.2,-0.5],[0,-0.2],[5,-0.2]
];

const SERIF = '"Liberation Serif", "Times New Roman", serif';

const pts = arr => arr.map(([x, y]) => ({ x, y }));

// frame, ticks on all four sides, Fermi level and its label
const decorations = {
  id: 'decorations',
  beforeDatasetsDraw(chart) {
    const { ctx, chartArea: a, scales: { x } } = chart;
    const ef = x.getPixelForValue(0);
    ctx.save();
    ctx.strokeStyle = '#111';
    ctx.lineWidth = 1.5;
    ctx.setLineDash([1.5, 2.5]);
    ctx.beginPath();
    ctx.moveTo(ef, a.top);
    ctx.lineTo(ef, a.bottom);
    ctx.stroke();
    ctx.restore();
  },
  afterDatasetsDraw(chart, args, opts) {
    const { ctx, chartArea: a, scales: { x, y } } = chart;
    ctx.save();
    ctx.strokeStyle = '#444';
    ctx.lineWidth = 1.5;
    ctx.strokeRect(a.left, a.top, a.right - a.left, a.bottom - a.top);
    ctx.beginPath();
    energyTicks.forEach(v => {
      const px = Math.round(x.getPixelForValue(v)) + 0.5;
      const len = Number.isInteger(v) ? 7 : 3.5;
      ctx.moveTo(px, a.bottom); ctx.lineTo(px, a.bottom + len);
      ctx.moveTo(px, a.top); ctx.lineTo(px, a.top - len);
    });
    dosTicks.forEach(v => {
      const py = Math.round(y.getPixelForValue(v)) + 0.5;
      const len = v % 10 === 0 ? 5 : 3;
      ctx.moveTo(a.left - len, py); ctx.lineTo(a.left, py);
      ctx.moveTo(a.right - 4, py); ctx.lineTo(a.right, py);
    });
    ctx.stroke();

    // E_F label
    const lx = x.getPixelForValue(opts.label[0]);
    const ly = y.getPixelForValue(opts.label[1]);
    ctx.fillStyle = '#000';
    ctx.textBaseline = 'alphabetic';
    ctx.font = 'bold 20px ' + SERIF;
    ctx.fillText('E', lx, ly);
    const w = ctx.measureText('E').width;
    ctx.font = 'bold 12px ' + SERIF;
    ctx.fillText('F', lx + w + 0.5, ly + 3.5);
    ctx.restore();
  }
};

function makePanel(id, series, geo) {
  const [totUp, totDown, mnUp, mnDown, asUp, asDown] = series;
  const red = d => ({ data: pts(d), borderColor: '#ff0000', backgroundColor: '#ff0000', borderWidth: 0.6, fill: 'origin', order: 3 });
  const thin = d => ({ data: pts(d), borderColor: '#555', borderWidth: 1.1, fill: false, order: 2 });
  const bold = d => ({ data: pts(d), borderColor: '#000', borderWidth: 1.9, fill: false, order: 1, clip: 0 });

  return new Chart(document.getElementById(id), {
    type: 'line',
    data: { datasets: [red(mnUp), red(mnDown), thin(asUp), thin(asDown), bold(totUp), bold(totDown)] },
    options: {
      responsive: false,
      animation: false,
      devicePixelRatio: 1,
      layout: { padding: { left: 0, top: geo.top, right: geo.right, bottom: 0 } },
      elements: { point: { radius: 0 }, line: { tension: 0, borderJoinStyle: 'round' } },
      plugins: {
        legend: { display: false },
        tooltip: { enabled: false },
        decorations: { label: geo.label }
      },
      scales: {
        x: {
          type: 'linear', min: -6, max: 5,
          grid: { display: false, drawTicks: false },
          border: { display: false },
          ticks: { stepSize: 1, padding: geo.xPad, color: '#333', font: { family: SERIF, size: 16 }, callback: v => String(v) },
          title: { display: true, text: 'Energy (eV)', color: '#111', font: { family: SERIF, size: 29 }, padding: { top: 0, bottom: geo.xTitlePad } },
          afterFit: s => { s.height = geo.xHeight; }
        },
        y: {
          min: -50, max: 50,
          grid: { display: false, drawTicks: false },
          border: { display: false },
          ticks: { stepSize: 10, padding: geo.yPad, color: '#333', font: { family: SERIF, size: 16 }, callback: v => String(v) },
          title: { display: true, text: 'DOS (states / eV / cell / spin)', color: '#111', font: { family: SERIF, size: 29 }, padding: { top: geo.yTitlePad, bottom: 0 } },
          afterFit: s => { s.width = geo.yWidth; }
        }
      }
    },
    plugins: [decorations]
  });
}

makePanel('dimer',
  [dimerTotalUp, dimerTotalDown, dimerMnUp, dimerMnDown, dimerAsUp, dimerAsDown],
  { top: 32, right: 25, yWidth: 93, xHeight: 95, xPad: 15, yPad: 12, xTitlePad: 26.6, yTitlePad: 16.6, label: [0.12, 9.8] });

makePanel('separate',
  [sepTotalUp, sepTotalDown, sepMnUp, sepMnDown, sepAsUp, sepAsDown],
  { top: 36, right: 34, yWidth: 82, xHeight: 90, xPad: 17, yPad: 10, xTitlePad: 22.6, yTitlePad: 6.6, label: [0.1, 9.85] });
</script>
</body>
</html>
